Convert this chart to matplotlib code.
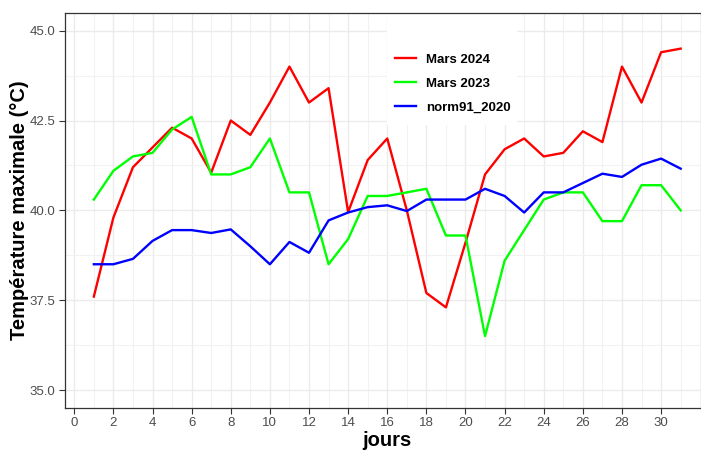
import matplotlib.pyplot as plt
from matplotlib.patches import Rectangle
import numpy as np

# data
jours = list(range(1, 32))
mars_2024 = [37.6, 39.8, 41.2, 41.75, 42.3, 42.0, 41.05, 42.5, 42.1, 43.0,
             44.0, 43.0, 43.4, 39.95, 41.4, 42.0, 40.0, 37.7, 37.3, 39.1,
             41.0, 41.7, 42.0, 41.5, 41.6, 42.2, 41.9, 44.0, 43.0, 44.4, 44.5]
mars_2023 = [40.3, 41.1, 41.5, 41.6, 42.25, 42.6, 41.0, 41.0, 41.2, 42.0,
             40.5, 40.5, 38.5, 39.2, 40.4, 40.4, 40.5, 40.6, 39.3, 39.3,
             36.5, 38.6, 39.45, 40.3, 40.5, 40.5, 39.7, 39.7, 40.7, 40.7, 40.0]
norm91_2020 = [38.5, 38.5, 38.65, 39.15, 39.45, 39.45, 39.37, 39.47, 39.0, 38.5,
               39.12, 38.82, 39.72, 39.94, 40.09, 40.14, 39.98, 40.3, 40.3, 40.3,
               40.6, 40.4, 39.94, 40.5, 40.5, 40.76, 41.02, 40.93, 41.27, 41.44, 41.16]

series = [("Mars 2024", mars_2024, "#FF0000"),
          ("Mars 2023", mars_2023, "#00FF00"),
          ("norm91_2020", norm91_2020, "#0000FF")]

x_major = list(range(0, 31, 2))
y_major = [35.0, 37.5, 40.0, 42.5, 45.0]

tick_font = ["Liberation Sans Narrow", "Liberation Sans", "DejaVu Sans"]
title_font = ["Liberation Sans", "DejaVu Sans"]

fig = plt.figure(figsize=(7.01, 4.5), dpi=100)
# panel runs past the right edge, as in the (cropped) reference
ax = fig.add_axes([64.5 / 701, 42 / 450, 645.5 / 701, 395.3 / 450])

for name, vals, col in series:
    ax.plot(jours, vals, color=col, linewidth=1.7, label=name, zorder=3)

ax.set_xlim(-0.5, 32.5)
ax.set_ylim(34.5, 45.5)
ax.set_xticks(x_major)
ax.set_xticks(np.arange(1, 33, 1), minor=True)
ax.set_yticks(y_major)
ax.set_yticks([36.25, 38.75, 41.25, 43.75], minor=True)
ax.set_yticklabels([f"{v:.1f}" for v in y_major])

ax.set_axisbelow(True)
ax.grid(which="major", color="#EBEBEB", linewidth=1.0)
ax.grid(which="minor", color="#F2F2F2", linewidth=0.8)
ax.tick_params(which="minor", length=0)
ax.tick_params(which="major", length=4.5, width=0.8, color="#333333",
               labelcolor="#4D4D4D", labelsize=9.5, pad=2)
for lab in ax.get_xticklabels() + ax.get_yticklabels():
    lab.set_family(tick_font)
for sp in ax.spines.values():
    sp.set_color("#333333")
    sp.set_linewidth(0.9)

ax.set_xlabel("jours", fontsize=14.5, fontweight="bold", family=title_font, va="center")
ax.set_ylabel("Température maximale (°C)", fontsize=14.5, fontweight="bold",
              family=title_font, va="center")
ax.xaxis.set_label_coords(0.5, -0.081)
ax.yaxis.set_label_coords(-0.069, 0.5)

# white legend background
ax.add_patch(Rectangle((0.4996, 0.716), 0.2014, 0.284, transform=ax.transAxes,
                       facecolor="white", edgecolor="none", zorder=1))
leg = ax.legend(loc="upper left", bbox_to_anchor=(0.494, 0.927), frameon=False,
                handlelength=1.55, handletextpad=0.8, labelspacing=0.88,
                prop={"family": title_font, "weight": "bold", "size": 9.5})
for h in leg.get_lines():
    h.set_linewidth(1.7)

fig.savefig("out.png", dpi=100)
